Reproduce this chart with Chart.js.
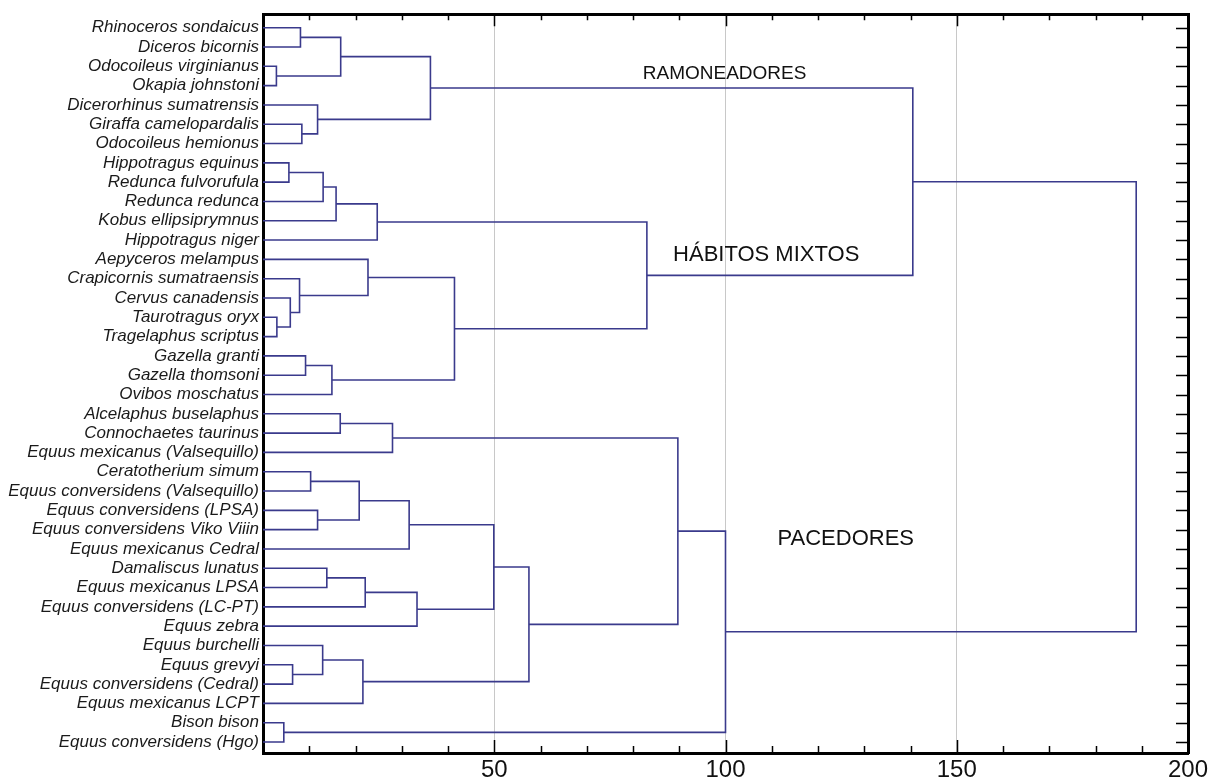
<!DOCTYPE html>
<html>
<head>
<meta charset="utf-8">
<script src="https://cdn.jsdelivr.net/npm/chart.js@4.4.0/dist/chart.umd.min.js"></script>
<style>
  body { margin: 0; background: #fff; }
  canvas { display: block; }
</style>
</head>
<body>
<canvas id="dendro" width="1221" height="784"></canvas>
<script>
// Species, in leaf order from top to bottom
const species = [
  'Rhinoceros sondaicus', 'Diceros bicornis', 'Odocoileus virginianus', 'Okapia johnstoni',
  'Dicerorhinus sumatrensis', 'Giraffa camelopardalis', 'Odocoileus hemionus',
  'Hippotragus equinus', 'Redunca fulvorufula', 'Redunca redunca', 'Kobus ellipsiprymnus',
  'Hippotragus niger', 'Aepyceros melampus', 'Crapicornis sumatraensis', 'Cervus canadensis',
  'Taurotragus oryx', 'Tragelaphus scriptus', 'Gazella granti', 'Gazella thomsoni',
  'Ovibos moschatus', 'Alcelaphus buselaphus', 'Connochaetes taurinus',
  'Equus mexicanus (Valsequillo)', 'Ceratotherium simum', 'Equus conversidens (Valsequillo)',
  'Equus conversidens (LPSA)', 'Equus conversidens Viko Viiin', 'Equus mexicanus Cedral',
  'Damaliscus lunatus', 'Equus mexicanus LPSA', 'Equus conversidens (LC-PT)', 'Equus zebra',
  'Equus burchelli', 'Equus grevyi', 'Equus conversidens (Cedral)', 'Equus mexicanus LCPT',
  'Bison bison', 'Equus conversidens (Hgo)'
];

// Linkage table: an index below species.length is a species,
// anything above is species.length + row of an earlier merge
const mergeA = [0, 2, 38, 5, 4, 40, 7, 44, 45, 46, 15, 14, 13, 12, 17, 52, 51, 47, 43,
                20, 57, 23, 25, 59, 61, 28, 63, 64, 62, 33, 32, 68, 66, 58, 36, 71, 56];
const mergeB = [1, 3, 39, 6, 41, 42, 8, 9, 10, 11, 16, 48, 49, 50, 18, 19, 53, 54, 55,
                21, 22, 24, 26, 60, 27, 29, 30, 31, 65, 34, 67, 35, 69, 70, 37, 72, 73];
const mergeDist = [8.1, 2.9, 16.8, 8.4, 11.8, 36.2, 5.6, 13.0, 15.8, 24.7, 3.0, 5.9, 7.9, 22.7,
                   9.2, 14.9, 41.4, 83.0, 140.5, 16.7, 28.0, 10.3, 11.8, 20.8, 31.6, 13.8, 22.1,
                   33.3, 49.9, 6.4, 12.9, 21.6, 57.5, 89.7, 4.5, 100.0, 188.8];

const xTickValues = [0, 50, 100, 150, 200];
const gridValues = [50, 100, 150];

const FONT = "'Liberation Sans', Arial, sans-serif";
const LINK_COLOR = '#3a3a8c';

// node positions: leaves sit on 1..n, each merge halfway between its children
const nodeY = species.map((_, i) => i + 1);
const nodeH = species.map(() => 0);
mergeA.forEach((a, k) => {
  nodeY.push((nodeY[a] + nodeY[mergeB[k]]) / 2);
  nodeH.push(mergeDist[k]);
});

// one bracket per merge
const links = mergeA.map((a, k) => {
  const b = mergeB[k], h = mergeDist[k];
  return {
    data: [
      {x: nodeH[a], y: nodeY[a]}, {x: h, y: nodeY[a]},
      {x: h, y: nodeY[b]}, {x: nodeH[b], y: nodeY[b]}
    ],
    showLine: true,
    borderColor: LINK_COLOR,
    borderWidth: 1.6,
    pointRadius: 0,
    fill: false,
    tension: 0
  };
});

// group captions, placed in data units
const groupLabels = [
  {text: 'RAMONEADORES', x: 99.8, y: 3.4, size: 19},
  {text: 'HÁBITOS MIXTOS', x: 108.8, y: 12.75, size: 22},
  {text: 'PACEDORES', x: 126, y: 27.5, size: 22}
];

const frameExtras = {
  id: 'frameExtras',
  afterDatasetsDraw(chart) {
    const {ctx, chartArea: a, scales: {x, y}} = chart;
    ctx.save();
    ctx.fillStyle = '#111';
    ctx.textAlign = 'center';
    ctx.textBaseline = 'middle';
    groupLabels.forEach(g => {
      ctx.font = g.size + 'px ' + FONT;
      ctx.fillText(g.text, x.getPixelForValue(g.x), y.getPixelForValue(g.y));
    });
    ctx.restore();
  },
  afterDraw(chart) {
    const {ctx, chartArea: a, scales: {x, y}} = chart;
    ctx.save();
    ctx.strokeStyle = '#000';
    ctx.lineWidth = 1.5;
    ctx.beginPath();
    // inward ticks on top and bottom
    for (let v = 10; v < 200; v += 10) {
      const px = Math.round(x.getPixelForValue(v)) + 0.5;
      const major = v % 50 === 0;
      ctx.moveTo(px, a.bottom); ctx.lineTo(px, a.bottom - (major ? 13 : 7));
      ctx.moveTo(px, a.top); ctx.lineTo(px, a.top + (major ? 12 : 6));
    }
    // inward ticks on the right, one per species
    species.forEach((_, i) => {
      const py = Math.round(y.getPixelForValue(i + 1)) + 0.5;
      ctx.moveTo(a.right, py); ctx.lineTo(a.right - 12, py);
    });
    ctx.stroke();
    ctx.restore();
  }
};

new Chart(document.getElementById('dendro'), {
  type: 'scatter',
  data: { datasets: links },
  options: {
    responsive: false,
    animation: false,
    devicePixelRatio: 1,
    layout: { padding: 0 },
    plugins: { legend: { display: false }, tooltip: { enabled: false } },
    scales: {
      x: {
        type: 'linear', position: 'bottom', min: 0, max: 200,
        afterBuildTicks: s => { s.ticks = xTickValues.map(v => ({value: v})); },
        afterFit: s => { s.height = 31; },
        ticks: {
          callback: v => v === 0 ? '' : v,
          font: { family: FONT, size: 24 },
          color: '#111', padding: 3, maxRotation: 0, autoSkip: false
        },
        grid: {
          drawTicks: false, lineWidth: 1,
          color: c => gridValues.includes(c.tick.value) ? '#c8c8c8' : 'rgba(0,0,0,0)'
        },
        border: { color: '#000', width: 3 }
      },
      xt: {
        type: 'linear', position: 'top', min: 0, max: 200,
        ticks: { display: false },
        grid: { display: false, drawTicks: false },
        border: { color: '#000', width: 3 },
        afterFit: s => { s.height = 10; }
      },
      y: {
        type: 'linear', position: 'left', reverse: true, min: 0.3, max: 38.57,
        afterBuildTicks: s => { s.ticks = species.map((_, i) => ({value: i + 1})); },
        afterFit: s => { s.width = 263; },
        ticks: {
          callback: v => species[Math.round(v) - 1],
          font: { family: FONT, size: 17, style: 'italic' },
          color: '#1a1a1a', padding: 4, autoSkip: false
        },
        grid: { display: false, drawTicks: false },
        border: { color: '#000', width: 3 }
      },
      yr: {
        type: 'linear', position: 'right', reverse: true, min: 0.3, max: 38.57,
        ticks: { display: false },
        grid: { display: false, drawTicks: false },
        border: { color: '#000', width: 3 },
        afterFit: s => { s.width = 33; }
      }
    }
  },
  plugins: [frameExtras]
});
</script>
</body>
</html>
